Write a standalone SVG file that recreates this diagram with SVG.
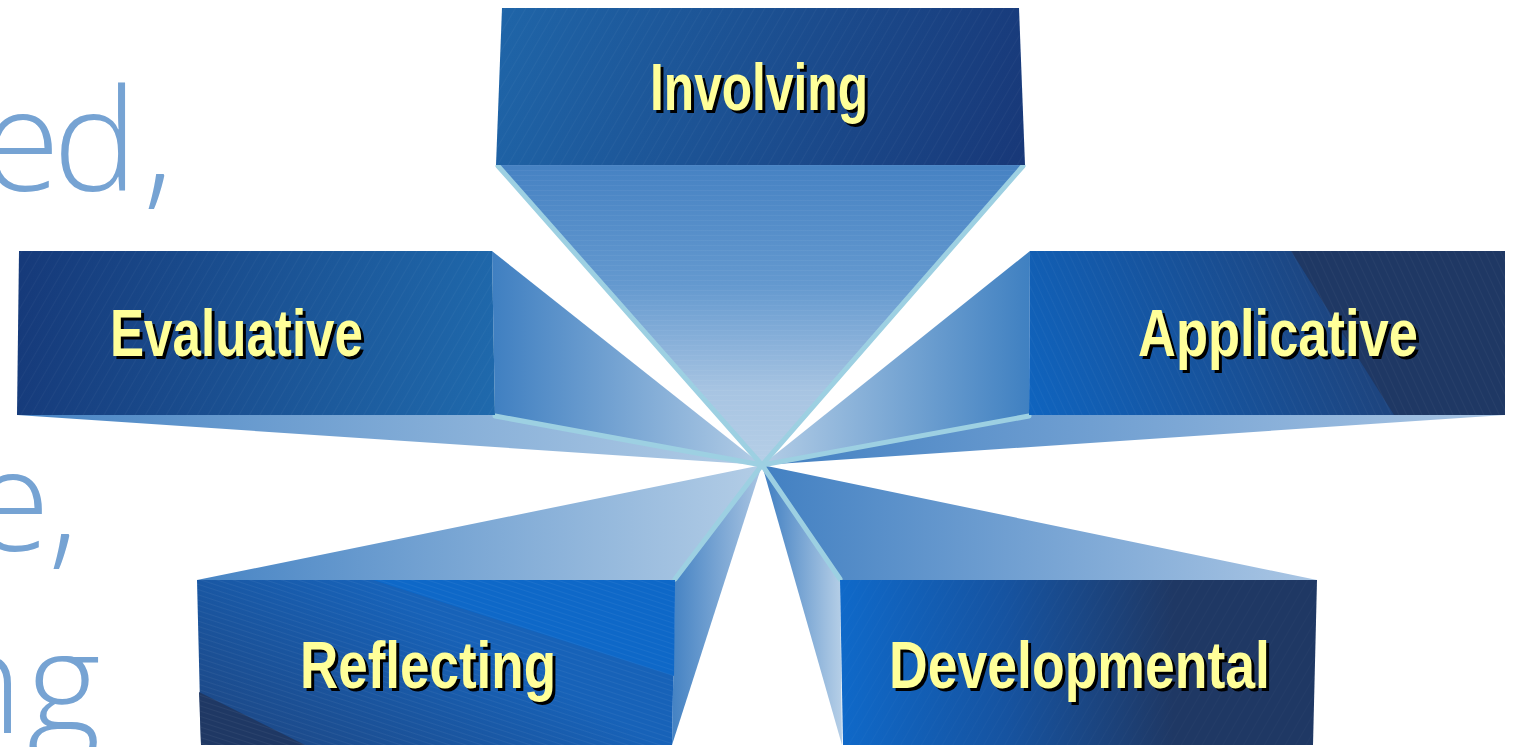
<svg xmlns="http://www.w3.org/2000/svg" width="1517" height="747" viewBox="0 0 1517 747">
<style>
.bg{font-family:"Open Sans","Lato","Noto Sans",sans-serif;font-weight:300;font-size:142px;fill:#76a3d3}
.lbl{font-family:"Liberation Sans Narrow","Liberation Sans",Arial,sans-serif;font-weight:bold;font-size:66px}
.sh{fill:#000000}
.fg{fill:#ffff99}
.ray{stroke:#9dd0e2;stroke-width:5;stroke-linecap:round;fill:none}
</style>
<defs>
<pattern id="diagL" width="9" height="9" patternUnits="userSpaceOnUse" patternTransform="rotate(30)">
<line x1="0" y1="0" x2="0" y2="9" stroke="#ffffff" stroke-width="0.6" stroke-opacity="0.12"/>
</pattern>
<pattern id="diagR" width="7" height="7" patternUnits="userSpaceOnUse" patternTransform="rotate(-25)">
<line x1="0" y1="0" x2="0" y2="7" stroke="#ffffff" stroke-width="0.6" stroke-opacity="0.12"/>
</pattern>
<pattern id="horiz" width="10" height="5" patternUnits="userSpaceOnUse">
<line x1="0" y1="0" x2="10" y2="0" stroke="#ffffff" stroke-width="0.6" stroke-opacity="0.14"/>
</pattern>
<pattern id="refl" width="5" height="5" patternUnits="userSpaceOnUse" patternTransform="rotate(-72)">
<line x1="0" y1="0" x2="0" y2="5" stroke="#ffffff" stroke-width="0.7" stroke-opacity="0.14"/>
</pattern>
<linearGradient id="gInvFront" gradientUnits="userSpaceOnUse" x1="500" y1="8" x2="1025" y2="165">
<stop offset="0" stop-color="#1f65a8"/><stop offset="1" stop-color="#183878"/>
</linearGradient>
<linearGradient id="gInvFunnel" gradientUnits="userSpaceOnUse" x1="0" y1="165" x2="0" y2="465">
<stop offset="0" stop-color="#4682c3"/><stop offset="0.4" stop-color="#6499cf"/><stop offset="0.75" stop-color="#a7c4e2"/><stop offset="1" stop-color="#b6cfe7"/>
</linearGradient>
<linearGradient id="gEvaFront" gradientUnits="userSpaceOnUse" x1="17" y1="300" x2="495" y2="370">
<stop offset="0" stop-color="#163a7a"/><stop offset="1" stop-color="#1f69ac"/>
</linearGradient>
<linearGradient id="gEvaSide" gradientUnits="userSpaceOnUse" x1="492" y1="0" x2="762" y2="0">
<stop offset="0" stop-color="#3f7fc1"/><stop offset="1" stop-color="#b3cde6"/>
</linearGradient>
<linearGradient id="gEvaBottom" gradientUnits="userSpaceOnUse" x1="17" y1="0" x2="762" y2="0">
<stop offset="0" stop-color="#4784c4"/><stop offset="1" stop-color="#b3cde6"/>
</linearGradient>
<linearGradient id="gAppFront" gradientUnits="userSpaceOnUse" x1="1030" y1="415" x2="1330" y2="290">
<stop offset="0" stop-color="#0f64bf"/><stop offset="1" stop-color="#1d4580"/>
</linearGradient>
<linearGradient id="gAppSide" gradientUnits="userSpaceOnUse" x1="1030" y1="0" x2="762" y2="0">
<stop offset="0" stop-color="#3f80c1"/><stop offset="1" stop-color="#b3cde6"/>
</linearGradient>
<linearGradient id="gAppBottom" gradientUnits="userSpaceOnUse" x1="762" y1="0" x2="1505" y2="0">
<stop offset="0" stop-color="#4280c2"/><stop offset="1" stop-color="#aac6e4"/>
</linearGradient>
<linearGradient id="gRefFront" gradientUnits="userSpaceOnUse" x1="230" y1="740" x2="330" y2="560">
<stop offset="0" stop-color="#1d4784"/><stop offset="1" stop-color="#1762b8"/>
</linearGradient>
<linearGradient id="gRefTop" gradientUnits="userSpaceOnUse" x1="197" y1="0" x2="762" y2="0">
<stop offset="0" stop-color="#4784c4"/><stop offset="1" stop-color="#b3cde6"/>
</linearGradient>
<linearGradient id="gRefSide" gradientUnits="userSpaceOnUse" x1="672" y1="0" x2="760" y2="0">
<stop offset="0" stop-color="#4482c3"/><stop offset="1" stop-color="#a8c4e2"/>
</linearGradient>
<linearGradient id="gDevFront" gradientUnits="userSpaceOnUse" x1="840" y1="0" x2="1317" y2="0">
<stop offset="0" stop-color="#0f69c9"/><stop offset="0.35" stop-color="#1653a0"/><stop offset="0.7" stop-color="#1f3864"/><stop offset="1" stop-color="#1f3864"/>
</linearGradient>
<linearGradient id="gDevTop" gradientUnits="userSpaceOnUse" x1="762" y1="0" x2="1317" y2="0">
<stop offset="0" stop-color="#4280c2"/><stop offset="1" stop-color="#aac6e4"/>
</linearGradient>
<linearGradient id="gDevSide" gradientUnits="userSpaceOnUse" x1="770" y1="0" x2="840" y2="0">
<stop offset="0" stop-color="#4884c4"/><stop offset="1" stop-color="#b3cde6"/>
</linearGradient>
</defs>
<rect width="1517" height="747" fill="#ffffff"/>
<g id="background-text">
<text class="bg" x="-18 53 143" y="191">ed,</text>
<text class="bg" x="-28 48" y="551">e,</text>
<text class="bg" x="-61 27" y="733">ng</text>
</g>
<g id="node-evaluative">
<polygon points="492,251 762,465 495,415" fill="url(#gEvaSide)"/>
<polygon points="17,415 495,415 762,465" fill="url(#gEvaBottom)"/>
</g>
<g id="node-applicative">
<polygon points="1030,251 762,465 1029,415" fill="url(#gAppSide)"/>
<polygon points="1029,415 1505,415 762,465" fill="url(#gAppBottom)"/>
</g>
<g id="node-reflecting">
<polygon points="197,580 675,580 762,465" fill="url(#gRefTop)"/>
<polygon points="675,580 762,465 672,745" fill="url(#gRefSide)"/>
</g>
<g id="node-developmental">
<polygon points="840,580 1317,580 762,465" fill="url(#gDevTop)"/>
<polygon points="762,465 840,580 842,745" fill="url(#gDevSide)"/>
</g>
<g id="node-involving">
<polygon points="496,165 1025,165 762,465" fill="url(#gInvFunnel)"/>
<polygon points="496,165 1025,165 762,465" fill="url(#horiz)"/>
</g>
<g id="connectors">
<line class="ray" x1="498" y1="166" x2="762" y2="465"/>
<line class="ray" x1="1023" y1="166" x2="762" y2="465"/>
<line class="ray" x1="495" y1="416" x2="762" y2="465"/>
<line class="ray" x1="1029" y1="416" x2="762" y2="465"/>
<line class="ray" x1="675" y1="579" x2="762" y2="465"/>
<line class="ray" x1="840" y1="579" x2="762" y2="465"/>
</g>
<g id="box-involving">
<polygon points="502,8 1019,8 1025,165 496,165" fill="url(#gInvFront)"/>
<polygon points="502,8 1019,8 1025,165 496,165" fill="url(#diagL)"/>
<text class="lbl sh" x="653" y="113" textLength="218" lengthAdjust="spacingAndGlyphs">Involving</text>
<text class="lbl fg" x="650" y="110" textLength="218" lengthAdjust="spacingAndGlyphs">Involving</text>
</g>
<g id="box-evaluative">
<polygon points="19,251 492,251 495,415 17,415" fill="url(#gEvaFront)"/>
<polygon points="19,251 492,251 495,415 17,415" fill="url(#diagL)"/>
<text class="lbl sh" x="113" y="359" textLength="253" lengthAdjust="spacingAndGlyphs">Evaluative</text>
<text class="lbl fg" x="110" y="356" textLength="253" lengthAdjust="spacingAndGlyphs">Evaluative</text>
</g>
<g id="box-applicative">
<polygon points="1030,251 1505,251 1505,415 1029,415" fill="url(#gAppFront)"/>
<polygon points="1291,251 1505,251 1505,415 1394,415" fill="#1f3864"/>
<polygon points="1030,251 1505,251 1505,415 1029,415" fill="url(#diagR)"/>
<text class="lbl sh" x="1141" y="359" textLength="280" lengthAdjust="spacingAndGlyphs">Applicative</text>
<text class="lbl fg" x="1138" y="356" textLength="280" lengthAdjust="spacingAndGlyphs">Applicative</text>
</g>
<g id="box-reflecting">
<polygon points="197,580 675,580 672,745 201,745" fill="url(#gRefFront)"/>
<polygon points="373,580 675,580 674,676" fill="#0e68c8"/>
<polygon points="199,692 305,745 201,745" fill="#1f3864"/>
<polygon points="197,580 675,580 672,745 201,745" fill="url(#refl)"/>
<text class="lbl sh" x="303" y="691" textLength="256" lengthAdjust="spacingAndGlyphs">Reflecting</text>
<text class="lbl fg" x="300" y="688" textLength="256" lengthAdjust="spacingAndGlyphs">Reflecting</text>
</g>
<g id="box-developmental">
<polygon points="840,580 1317,580 1313,745 843,745" fill="url(#gDevFront)"/>
<polygon points="840,580 1317,580 1313,745 843,745" fill="url(#diagL)" opacity="0.6"/>
<text class="lbl sh" x="892" y="691" textLength="381" lengthAdjust="spacingAndGlyphs">Developmental</text>
<text class="lbl fg" x="889" y="688" textLength="381" lengthAdjust="spacingAndGlyphs">Developmental</text>
</g>
</svg>
